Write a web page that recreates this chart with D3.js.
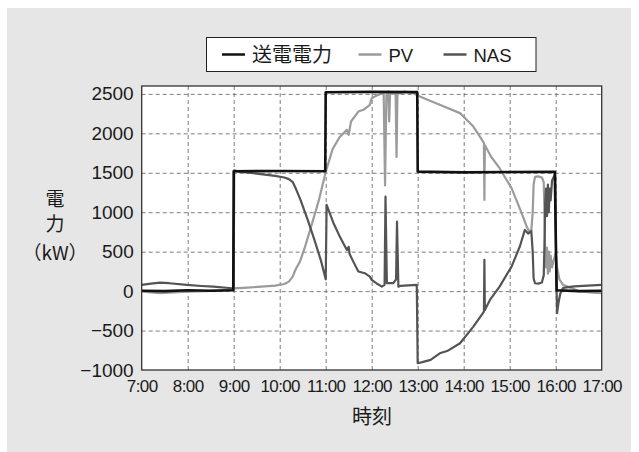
<!DOCTYPE html>
<html>
<head>
<meta charset="utf-8">
<script src="https://cdn.jsdelivr.net/npm/d3@7"></script>
<style>
  body { margin: 0; background: #fff; }
  svg { display: block; }
</style>
</head>
<body>
<div id="chart"></div>
<script>
// time in hours, value in kW
const hours = d3.range(7, 18);
const yTicks = d3.range(-1000, 2501, 500);

const gridPower = [
  [7.0, 5], [7.5, 0], [8.0, 10], [8.5, 5], [8.99, 10],
  [9.0, 1520], [10.0, 1522], [10.99, 1520],
  [11.0, 2520], [12.0, 2525], [12.99, 2522],
  [13.0, 1515], [14.0, 1505], [15.0, 1510], [15.98, 1512],
  [16.02, 10], [16.5, 0], [17.0, 5]
];

const pv = [
  [7.0, -5], [7.2, -15], [7.4, -25], [7.6, -20], [7.9, -10], [8.2, -5], [8.6, 5], [8.96, 15],
  [9.0, 35], [9.3, 45], [9.6, 57], [9.9, 70], [10.1, 90], [10.2, 120], [10.28, 180],
  [10.35, 280], [10.44, 374], [10.55, 560], [10.7, 850], [10.85, 1150], [11.0, 1510],
  [11.15, 1800], [11.3, 1950], [11.46, 2044], [11.5, 1980], [11.55, 2150], [11.71, 2276],
  [11.82, 2298], [11.96, 2361], [12.0, 2446], [12.14, 2488], [12.2, 2500], [12.26, 2520],
  [12.29, 1340], [12.32, 2500], [12.36, 2530], [12.38, 2150], [12.40, 2510], [12.46, 2500],
  [12.52, 2520], [12.54, 1700], [12.56, 2500], [12.72, 2530], [12.9, 2510], [13.0, 2480],
  [13.2, 2430], [13.48, 2361], [13.92, 2256], [14.21, 2086], [14.44, 1880], [14.45, 1156],
  [14.46, 1850], [14.6, 1700], [14.78, 1558], [15.04, 1305], [15.26, 988], [15.37, 818],
  [15.42, 760], [15.47, 770], [15.50, 1000], [15.52, 1350], [15.55, 1450], [15.62, 1455],
  [15.70, 1440], [15.74, 1380], [15.76, 900], [15.77, 500], [15.79, 300], [15.81, 550],
  [15.83, 220], [15.85, 500], [15.87, 250], [15.89, 450], [15.92, 300], [15.96, 400],
  [16.0, 480], [16.03, 300], [16.08, 150], [16.16, 80], [16.3, 50], [16.5, 0], [16.8, -20],
  [17.0, -25]
];

const nas = [
  [7.0, 80], [7.2, 95], [7.4, 108], [7.6, 100], [7.98, 78], [8.3, 65], [8.56, 57], [8.96, 36],
  [9.0, 40], [9.01, 1530], [9.1, 1515], [9.5, 1490], [9.9, 1460], [10.1, 1440], [10.2, 1420],
  [10.28, 1385], [10.35, 1300], [10.45, 1160], [10.6, 920], [10.75, 660], [10.9, 380],
  [11.0, 150], [11.02, 1093], [11.17, 861], [11.3, 700], [11.46, 522], [11.5, 560],
  [11.52, 470], [11.6, 374], [11.71, 248], [11.85, 227], [11.96, 184], [12.0, 142],
  [12.1, 100], [12.22, 57], [12.28, 80], [12.30, 1199], [12.33, 100], [12.47, 100],
  [12.53, 150], [12.55, 882], [12.58, 57], [12.62, 66], [12.98, 78], [13.0, -914],
  [13.1, -900], [13.28, -872], [13.48, -788], [13.64, -760], [13.92, -661], [14.21, -450],
  [14.44, -260], [14.45, 396], [14.46, -238], [14.57, -112], [14.78, 57], [15.04, 311],
  [15.22, 565], [15.33, 776], [15.4, 730], [15.47, 760], [15.50, 500], [15.52, 160],
  [15.55, 100], [15.62, 95], [15.70, 110], [15.74, 200], [15.76, 700], [15.77, 1100],
  [15.79, 1300], [15.81, 950], [15.83, 1350], [15.85, 1000], [15.87, 1300], [15.89, 1150],
  [15.92, 1400], [15.96, 1450], [15.99, 1480], [16.01, 300], [16.03, -280], [16.06, -150],
  [16.1, -30], [16.16, 40], [16.4, 60], [16.7, 70], [17.0, 80]
];

const series = [
  { name: "PV", data: pv, color: "#9b9b9b", width: 2.2 },
  { name: "NAS", data: nas, color: "#545454", width: 2.2 },
  { name: "送電電力", data: gridPower, color: "#111", width: 2.6 }
];
const legendOrder = ["送電電力", "PV", "NAS"];

const W = 639, H = 452;
const plot = { left: 141.7, right: 601.7, top: 86, bottom: 370 };
const latin = "'Liberation Sans', Arial, sans-serif";
const cjk = "'Noto Sans CJK JP', sans-serif";

const svg = d3.select("#chart").append("svg")
  .attr("width", W)
  .attr("height", H);

// gray panel
svg.append("rect")
  .attr("x", 7).attr("y", 8)
  .attr("width", 624).attr("height", 444)
  .attr("fill", "#e6e6e6");

const x = d3.scaleLinear().domain([7, 17]).range([plot.left, plot.right]);
const y = d3.scaleLinear().domain([-1000, 2600]).range([plot.bottom, plot.top]);

svg.append("rect")
  .attr("x", plot.left).attr("y", plot.top)
  .attr("width", plot.right - plot.left).attr("height", plot.bottom - plot.top)
  .attr("fill", "#fff");

// grid lines
const gridX = svg.append("g")
  .attr("transform", `translate(0,${plot.bottom})`)
  .call(d3.axisBottom(x).tickValues(hours.slice(1, -1)).tickSize(-(plot.bottom - plot.top)).tickFormat(""));
const gridY = svg.append("g")
  .attr("transform", `translate(${plot.left},0)`)
  .call(d3.axisLeft(y).tickValues(yTicks.slice(1)).tickSize(-(plot.right - plot.left)).tickFormat(""));
[gridX, gridY].forEach(g => {
  g.select(".domain").remove();
  g.selectAll("line")
    .attr("stroke", "#6e6e6e")
    .attr("stroke-width", 0.9)
    .attr("stroke-dasharray", "4,3");
});

// lines
const line = d3.line()
  .x(d => x(d[0]))
  .y(d => y(d[1]));

svg.append("g")
  .selectAll("path")
  .data(series)
  .join("path")
  .attr("d", d => line(d.data))
  .attr("fill", "none")
  .attr("stroke", d => d.color)
  .attr("stroke-width", d => d.width)
  .attr("stroke-linejoin", "round");

// plot border
svg.append("rect")
  .attr("x", plot.left).attr("y", plot.top)
  .attr("width", plot.right - plot.left).attr("height", plot.bottom - plot.top)
  .attr("fill", "none")
  .attr("stroke", "#333")
  .attr("stroke-width", 1.3);

// axes labels
const yAxis = svg.append("g")
  .attr("transform", `translate(${plot.left},0)`)
  .call(d3.axisLeft(y).tickValues(yTicks).tickSize(0).tickPadding(8)
    .tickFormat(d => d < 0 ? "\u2212" + Math.abs(d) : d));
const xAxis = svg.append("g")
  .attr("transform", `translate(0,${plot.bottom})`)
  .call(d3.axisBottom(x).tickValues(hours).tickSize(0).tickPadding(10)
    .tickFormat(d => d + ":00"));
[xAxis, yAxis].forEach(g => g.select(".domain").remove());
yAxis.selectAll("text")
  .attr("font-family", latin)
  .attr("font-size", 19)
  .attr("fill", "#1a1a1a");
xAxis.selectAll("text")
  .attr("font-family", latin)
  .attr("font-size", 17)
  .attr("letter-spacing", -0.6)
  .attr("fill", "#1a1a1a");

// axis titles
svg.append("text")
  .attr("x", 372).attr("y", 424)
  .attr("text-anchor", "middle")
  .attr("font-family", cjk)
  .attr("font-size", 20)
  .attr("fill", "#1a1a1a")
  .text("時刻");

const yTitle = svg.append("g")
  .attr("font-family", cjk)
  .attr("font-size", 19)
  .attr("fill", "#1a1a1a")
  .attr("text-anchor", "middle");
[["電", 206], ["力", 231], ["（kW）", 260]].forEach(([t, ty]) => {
  yTitle.append("text").attr("x", 55).attr("y", ty).text(t);
});

// legend
const legend = svg.append("g");
legend.append("rect")
  .attr("x", 206.5).attr("y", 37.5)
  .attr("width", 329.5).attr("height", 34)
  .attr("fill", "#fff")
  .attr("stroke", "#222")
  .attr("stroke-width", 1);

const legendX = [222, 358.5, 443.5];
legendOrder.forEach((name, i) => {
  const s = series.find(d => d.name === name);
  const lx = legendX[i];
  legend.append("line")
    .attr("x1", lx).attr("x2", lx + 23)
    .attr("y1", 54.5).attr("y2", 54.5)
    .attr("stroke", s.color)
    .attr("stroke-width", 2.5);
  legend.append("text")
    .attr("x", lx + 30)
    .attr("y", 61.5)
    .attr("font-family", i === 0 ? cjk : latin)
    .attr("font-size", i === 0 ? 20 : 18.5)
    .attr("fill", "#1a1a1a")
    .text(name);
});
</script>
</body>
</html>
